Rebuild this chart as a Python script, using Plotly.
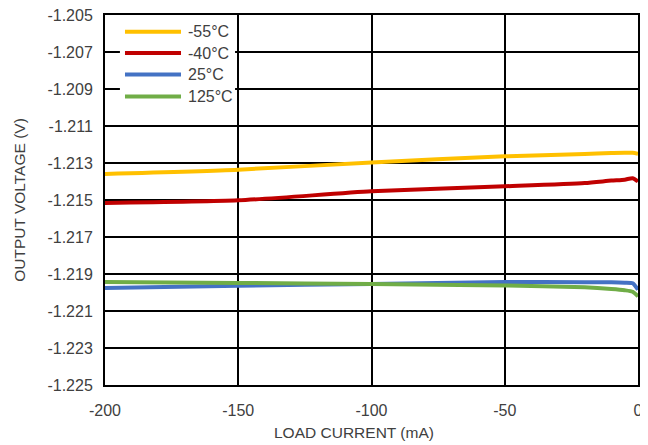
import plotly.graph_objects as go

# Data
load_current = [-200, -150, -100, -50, -20, -10, -5, -2, 0]
v_m55 = [-1.21359, -1.21336, -1.21297, -1.21264, -1.21252, -1.21246, -1.21245, -1.21245, -1.2125]
v_m40 = [-1.21516, -1.21502, -1.21453, -1.21426, -1.21408, -1.21395, -1.2139, -1.21382, -1.2140]
v_25 = [-1.21976, -1.21963, -1.21954, -1.21943, -1.21944, -1.21945, -1.21947, -1.2195, -1.21985]
v_125 = [-1.21943, -1.21948, -1.21954, -1.21962, -1.21972, -1.21981, -1.21988, -1.21996, -1.22021]

series_names = ["-55°C", "-40°C", "25°C", "125°C"]
series_values = [v_m55, v_m40, v_25, v_125]
series_colors = ["#FFC000", "#C00000", "#4472C4", "#70AD47"]

x_ticks = [-200, -150, -100, -50, 0]
y_ticks = [-1.205, -1.207, -1.209, -1.211, -1.213, -1.215, -1.217, -1.219, -1.221, -1.223, -1.225]

x_title = "LOAD CURRENT (mA)"
y_title = "OUTPUT VOLTAGE (V)"

FONT = "Liberation Sans, Arial, sans-serif"
TXT = "#404040"

fig = go.Figure()
for name, vals, col in zip(series_names, series_values, series_colors):
    fig.add_trace(go.Scatter(x=load_current, y=vals, mode="lines", name=name, showlegend=False,
                             line=dict(color=col, width=4, shape="spline", smoothing=0.6)))

# Custom legend (paper coordinates) to mimic the long line samples of the original
shapes = [dict(type="rect", xref="paper", yref="paper", x0=0.028, x1=0.244, y0=0.75, y1=0.997,
               fillcolor="white", line=dict(width=0), layer="above")]
annotations = []
row_y = [0.955, 0.897, 0.839, 0.780]
for name, col, yy in zip(series_names, series_colors, row_y):
    shapes.append(dict(type="line", xref="paper", yref="paper", x0=0.0375, x1=0.1426, y0=yy, y1=yy,
                       line=dict(color=col, width=4), layer="above"))
    annotations.append(dict(xref="paper", yref="paper", x=0.152, y=yy, text=name, showarrow=False,
                            xanchor="left", yanchor="middle",
                            font=dict(family=FONT, size=16, color=TXT)))

# X-axis title (slightly left of centre, as in the original)
annotations.append(dict(xref="paper", yref="paper", x=0.467, y=-0.128, text=x_title,
                        showarrow=False, xanchor="center", yanchor="middle",
                        font=dict(family=FONT, size=15.5, color=TXT)))

# The page body adds an 8px offset; size/margins compensate so the plot area
# lands where it sits in the original.
fig.update_layout(
    width=640, height=437,
    margin=dict(l=97, r=10, t=7, b=60),
    paper_bgcolor="white", plot_bgcolor="white",
    font=dict(family=FONT, size=16, color=TXT),
    showlegend=False,
    shapes=shapes, annotations=annotations,
)
fig.update_xaxes(
    range=[-200, 0], tickvals=x_ticks, ticktext=[str(v) for v in x_ticks],
    showgrid=True, gridcolor="black", gridwidth=2,
    showline=True, linecolor="black", linewidth=2, mirror=True,
    zeroline=False, ticks="", ticklabelstandoff=10, automargin=False,
    ticklabeloverflow="allow",
)
fig.update_yaxes(
    range=[-1.225, -1.205], tickvals=y_ticks, ticktext=[f"{v:.3f}" for v in y_ticks],
    showgrid=True, gridcolor="black", gridwidth=2,
    showline=True, linecolor="black", linewidth=2, mirror=True,
    zeroline=False, ticks="", ticklabelstandoff=7, automargin=False,
    ticklabeloverflow="allow",
    title=dict(text=y_title, font=dict(family=FONT, size=15.5, color=TXT), standoff=18),
)

fig.write_html("out.html")
